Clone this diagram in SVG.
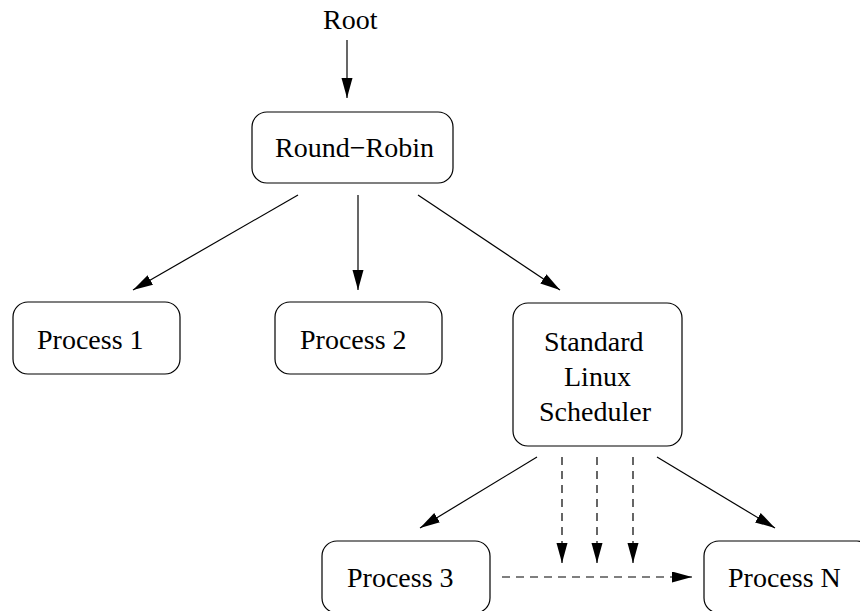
<svg xmlns="http://www.w3.org/2000/svg" width="860" height="611" viewBox="0 0 860 611">
  <style>
    .box { fill: #ffffff; stroke: #000000; stroke-width: 1.2; }
    .lbl { font-family: "Liberation Serif", "Times New Roman", serif; font-size: 28px; fill: #000000; }
    .edge { fill: none; stroke: #000000; stroke-width: 1.2; }
    .dash { stroke-dasharray: 8 6; }
  </style>
  <defs>
    <marker id="arrow" markerUnits="userSpaceOnUse" markerWidth="22" markerHeight="12" refX="20" refY="5.5" orient="auto">
      <path d="M0,0 L20,5.5 L0,11 Z" fill="#000000"/>
    </marker>
  </defs>
  <rect width="860" height="611" fill="#ffffff"/>

  <g id="connectors">
    <line class="edge" x1="347" y1="40" x2="347" y2="98" marker-end="url(#arrow)"/>
    <line class="edge" x1="298" y1="195" x2="133" y2="290" marker-end="url(#arrow)"/>
    <line class="edge" x1="358" y1="195" x2="358" y2="290" marker-end="url(#arrow)"/>
    <line class="edge" x1="418" y1="195" x2="560" y2="290" marker-end="url(#arrow)"/>
    <line class="edge" x1="537" y1="457" x2="420" y2="528" marker-end="url(#arrow)"/>
    <line class="edge" x1="657" y1="457" x2="775" y2="528" marker-end="url(#arrow)"/>
    <line class="edge dash" x1="562" y1="457" x2="562" y2="563" marker-end="url(#arrow)"/>
    <line class="edge dash" x1="597" y1="457" x2="597" y2="563" marker-end="url(#arrow)"/>
    <line class="edge dash" x1="633" y1="457" x2="633" y2="563" marker-end="url(#arrow)"/>
    <line class="edge dash" x1="502" y1="577" x2="692" y2="577" marker-end="url(#arrow)"/>
  </g>

  <g id="root">
    <text class="lbl" x="323" y="29">Root</text>
  </g>

  <g id="round-robin">
    <rect class="box" x="252" y="112" width="201" height="71" rx="15" ry="15"/>
    <text class="lbl" x="275" y="157">Round−Robin</text>
  </g>

  <g id="process-1">
    <rect class="box" x="13" y="302" width="167" height="72" rx="15" ry="15"/>
    <text class="lbl" x="37" y="349">Process 1</text>
  </g>

  <g id="process-2">
    <rect class="box" x="275" y="302" width="167" height="72" rx="15" ry="15"/>
    <text class="lbl" x="300" y="349">Process 2</text>
  </g>

  <g id="linux-scheduler">
    <rect class="box" x="513" y="303" width="169" height="143" rx="15" ry="15"/>
    <text class="lbl" x="544" y="351">Standard</text>
    <text class="lbl" x="564" y="386">Linux</text>
    <text class="lbl" x="539" y="421">Scheduler</text>
  </g>

  <g id="process-3">
    <rect class="box" x="322" y="541" width="168" height="72" rx="15" ry="15"/>
    <text class="lbl" x="347" y="587">Process 3</text>
  </g>

  <g id="process-n">
    <rect class="box" x="704" y="541" width="168" height="72" rx="15" ry="15"/>
    <text class="lbl" x="728" y="587">Process N</text>
  </g>
</svg>
